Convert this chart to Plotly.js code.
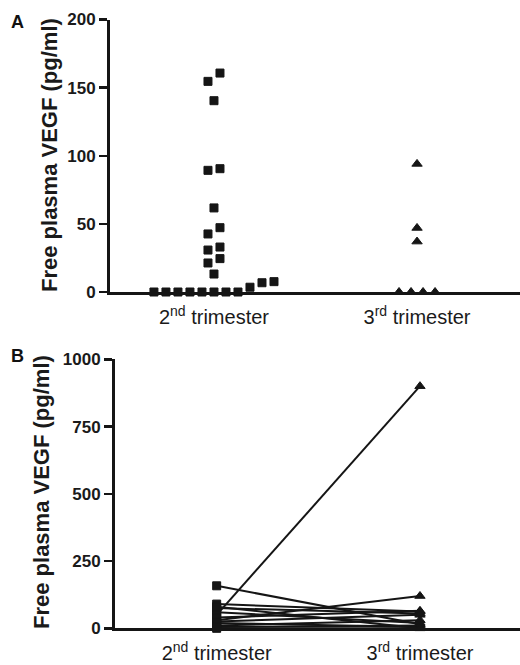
<!DOCTYPE html>
<html>
<head>
<meta charset="utf-8">
<script src="https://cdn.plot.ly/plotly-3.0.1.min.js"></script>
<style>html,body{margin:0;padding:0;background:#fff;}#chart{width:520px;height:665px;}</style>
</head>
<body>
<div id="chart"></div>
<script>
// ---------- DATA ----------
const categories = ["2<sup>nd</sup> trimester", "3<sup>rd</sup> trimester"];
// Panel A: free plasma VEGF (pg/ml), unpaired
const secondTrimesterA = [160.7, 154.6, 140.4, 90.5, 89.3, 61.7, 47.2, 42.6, 33.0, 30.8, 24.5, 21.3, 13.2, 7.6, 6.8, 3.5, 0, 0, 0, 0, 0, 0, 0, 0];
const thirdTrimesterA = [94, 47, 37, 0, 0, 0, 0];
// Panel B: paired samples (2nd -> 3rd trimester)
const pairedSecondB = [158, 50, 30, 90, 75, 60, 40, 25, 10, 0, 20, 5, 80];
const pairedThirdB  = [15, 900, 120, 62, 55, 20, 65, 50, 30, 0, 5, 10, 0];
const yTicksA = [0, 50, 100, 150, 200];
const yTicksB = [0, 250, 500, 750, 1000];
const yTitle = "Free plasma VEGF (pg/ml)";

// ---------- scatter-dot (row-centred) layout ----------
const W = 520, H = 665;
function rowOffsets(values, pxPerUnit, rowTolPx, stepUnits) {
  const idx = values.map((v, i) => i).sort((a, b) => values[a] - values[b]);
  const offs = new Array(values.length).fill(0);
  let row = [];
  const flush = () => {
    const n = row.length;
    row.forEach((i, k) => { offs[i] = (k - (n - 1) / 2) * stepUnits; });
    row = [];
  };
  idx.forEach(i => {
    if (row.length && (values[i] - values[row[0]]) * pxPerUnit >= rowTolPx) flush();
    row.push(i);
  });
  flush();
  return offs;
}
const pxPerUnitA = 272.5 / 200;
const stepX = 12 / 203;
const offA2 = rowOffsets(secondTrimesterA, pxPerUnitA, 11, stepX);
const offA3 = rowOffsets(thirdTrimesterA, pxPerUnitA, 11, stepX);

const black = "#151515";
const mk = (sym, size) => ({ symbol: sym, size: size, color: black, opacity: 1, line: { color: black, width: 1 } });
const traces = [
  { type: "scatter", mode: "markers", xaxis: "x", yaxis: "y",
    x: secondTrimesterA.map((v, i) => 0 + offA2[i]), y: secondTrimesterA,
    marker: mk("square", 8), cliponaxis: false, hoverinfo: "y" },
  { type: "scatter", mode: "markers", xaxis: "x", yaxis: "y",
    x: thirdTrimesterA.map((v, i) => 1 + offA3[i]), y: thirdTrimesterA,
    marker: mk("triangle-up", 9), cliponaxis: false, hoverinfo: "y" }
];
pairedSecondB.forEach((v, i) => {
  traces.push({ type: "scatter", mode: "lines+markers", xaxis: "x2", yaxis: "y2",
    x: [0, 1], y: [v, pairedThirdB[i]],
    line: { color: black, width: 2 },
    marker: mk(["square", "triangle-up"], [8, 9]),
    cliponaxis: false, hoverinfo: "y" });
});

const fam = "Liberation Sans, Arial, sans-serif";
const tickFontY = { family: fam, size: 17, color: "#1a1a1a", weight: "bold" };
const tickFontX = { family: fam, size: 20, color: "#1a1a1a" };
const yCommon = { showline: true, linewidth: 3, linecolor: black, ticks: "outside", ticklen: 8, tickwidth: 2.5,
  tickcolor: black, showgrid: false, zeroline: false, tickfont: tickFontY, automargin: false, fixedrange: true };
const xCommon = { showline: true, linewidth: 3, linecolor: black, ticks: "", showgrid: false, zeroline: false,
  tickmode: "array", tickvals: [0, 1], ticktext: categories, tickfont: tickFontX, automargin: false,
  ticklabelstandoff: 5, fixedrange: true };

const layout = {
  width: W, height: H, margin: { l: 0, r: 0, t: 0, b: 0 },
  paper_bgcolor: "#fff", plot_bgcolor: "#fff", showlegend: false,
  xaxis: Object.assign({}, xCommon, { domain: [110 / W, 1], range: [-0.512, 1.507], anchor: "y" }),
  yaxis: Object.assign({}, yCommon, { domain: [(H - 292) / H, (H - 19.5) / H], range: [0, 200], tickvals: yTicksA, tickmode: "array", anchor: "x" }),
  xaxis2: Object.assign({}, xCommon, { domain: [115 / W, 1], range: [-0.5, 1.492], anchor: "y2" }),
  yaxis2: Object.assign({}, yCommon, { domain: [(H - 628.3) / H, (H - 359.3) / H], range: [0, 1000], tickvals: yTicksB, tickmode: "array", anchor: "x2" }),
  annotations: [
    { text: yTitle, textangle: -90, xref: "paper", yref: "paper", x: 49 / W, y: (H - 155) / H,
      xanchor: "center", yanchor: "middle", showarrow: false,
      font: { family: fam, size: 22, color: "#1a1a1a", weight: "bold" } },
    { text: yTitle, textangle: -90, xref: "paper", yref: "paper", x: 41 / W, y: (H - 492) / H,
      xanchor: "center", yanchor: "middle", showarrow: false,
      font: { family: fam, size: 22, color: "#1a1a1a", weight: "bold" } },
    { text: "A", xref: "paper", yref: "paper", x: 17 / W, y: (H - 22) / H, xanchor: "center", yanchor: "middle",
      showarrow: false, font: { family: fam, size: 18, color: "#111", weight: "bold" } },
    { text: "B", xref: "paper", yref: "paper", x: 17 / W, y: (H - 356) / H, xanchor: "center", yanchor: "middle",
      showarrow: false, font: { family: fam, size: 18, color: "#111", weight: "bold" } }
  ]
};
Plotly.newPlot("chart", traces, layout, { staticPlot: true, displayModeBar: false });
</script>
</body>
</html>
